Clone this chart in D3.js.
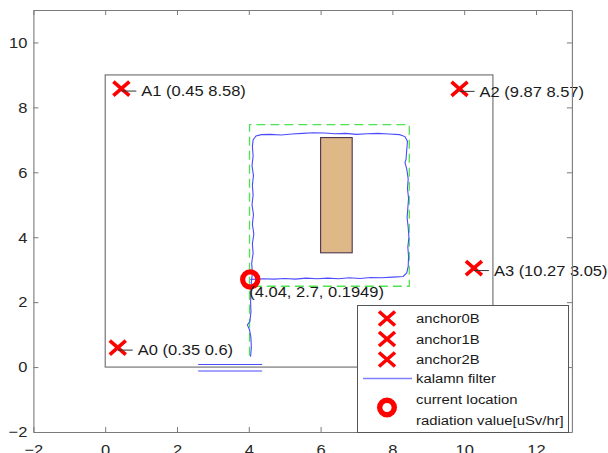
<!DOCTYPE html>
<html><head><meta charset="utf-8">
<script src="https://cdn.jsdelivr.net/npm/d3@7"></script>
<style>html,body{margin:0;padding:0;background:#fff;}svg{display:block;}</style>
</head><body>
<script>
// ---- data ----
const xTicks = [-2, 0, 2, 4, 6, 8, 10, 12];
const yTicks = [-2, 0, 2, 4, 6, 8, 10];
const anchorNames = ["A0", "A1", "A2", "A3"];
const anchorX = [0.35, 0.45, 9.87, 10.27];
const anchorY = [0.6, 8.58, 8.57, 3.05];
const roomX = [0, 10.8];
const roomY = [0, 9];
const obstacleX = [6.0, 6.88];
const obstacleY = [3.52, 7.07];
const plannedX = [4.02, 4.02, 8.47, 8.47, 4.02];
const plannedY = [0.35, 7.47, 7.47, 2.49, 2.49];
const kalmanX = [4.05, 4.07, 4.06, 4.02, 3.96, 4.03, 4.06, 4.05, 4.06, 4.07, 4.10, 4.08, 4.12, 4.10, 4.14, 4.10, 4.13, 4.09, 4.12, 4.10, 4.13, 4.09, 4.12, 4.10, 4.12, 4.20, 4.35,
  4.6, 4.9, 5.2, 5.5, 5.8, 6.1, 6.4, 6.7, 7.0, 7.3, 7.6, 7.9, 8.2, 8.35, 8.42,
  8.40, 8.38, 8.35, 8.40, 8.44, 8.42, 8.45, 8.43, 8.41, 8.44, 8.46, 8.43, 8.45, 8.44, 8.40, 8.30,
  8.0, 7.7, 7.4, 7.1, 6.8, 6.5, 6.2, 5.9, 5.6, 5.3, 5.0, 4.7, 4.4, 4.04];
const kalmanY = [0.32, 0.6, 0.9, 1.15, 1.3, 1.4, 1.7, 2.0, 2.3, 2.6, 2.9, 3.2, 3.5, 3.8, 4.1, 4.4, 4.7, 5.0, 5.3, 5.6, 5.9, 6.2, 6.5, 6.8, 7.0, 7.12, 7.16,
  7.17, 7.15, 7.18, 7.20, 7.22, 7.21, 7.19, 7.20, 7.17, 7.19, 7.20, 7.18, 7.16, 7.10, 6.95,
  6.7, 6.4, 6.3, 6.1, 5.8, 5.5, 5.2, 4.9, 4.6, 4.3, 4.0, 3.7, 3.4, 3.1, 2.9, 2.79,
  2.77, 2.75, 2.76, 2.73, 2.75, 2.72, 2.74, 2.72, 2.74, 2.71, 2.73, 2.71, 2.72, 2.70];
const kalmanTailX = [2.59, 4.37, NaN, 2.59, 4.37];
const kalmanTailY = [0.08, 0.08, NaN, -0.12, -0.12];
const currentX = 4.04, currentY = 2.7, radiationValue = 0.1949;
const legendLabels = ["anchor0B", "anchor1B", "anchor2B", "kalamn filter", "current location", "radiation value[uSv/hr]"];

// ---- chart ----
const W = 608, H = 453;
const SX = 1.1;
const FONT = "'Liberation Sans', Arial, sans-serif";
const svg = d3.select("body").append("svg").attr("width", W).attr("height", H)
  .style("font-family", FONT);
svg.append("rect").attr("width", W).attr("height", H).attr("fill", "#fff");

const x = d3.scaleLinear().domain([-2, 13]).range([33.4, 571.9]);
const y = d3.scaleLinear().domain([-2, 11]).range([432, 10]);

function stext(g, px, py, str, size, anchor) {
  return g.append("text")
    .attr("transform", `translate(${px},${py}) scale(${SX},1)`)
    .attr("dy", "0.35em")
    .attr("text-anchor", anchor || "start")
    .attr("font-size", size)
    .attr("fill", "#1a1a1a")
    .text(str);
}
function xMark(g, px, py) {
  g.append("path")
    .attr("d", `M${px - 8},${py - 7}L${px + 8},${py + 7}M${px - 8},${py + 7}L${px + 8},${py - 7}`)
    .attr("stroke", "#ff0000").attr("stroke-width", 3.6).attr("fill", "none");
}

const plot = svg.append("g");

// room
plot.append("rect")
  .attr("x", x(roomX[0])).attr("y", y(roomY[1]))
  .attr("width", x(roomX[1]) - x(roomX[0])).attr("height", y(roomY[0]) - y(roomY[1]))
  .attr("fill", "none").attr("stroke", "#6a6a6a").attr("stroke-width", 1.1);

// planned path
const line = d3.line().defined((d) => !isNaN(d[0])).x((d) => x(d[0])).y((d) => y(d[1]));
plot.append("path")
  .attr("d", line(plannedX.map((v, i) => [v, plannedY[i]])))
  .attr("fill", "none").attr("stroke", "#4fe34f").attr("stroke-width", 1.3)
  .attr("stroke-dasharray", "9,5");

// obstacle
plot.append("rect")
  .attr("x", x(obstacleX[0])).attr("y", y(obstacleY[1]))
  .attr("width", x(obstacleX[1]) - x(obstacleX[0])).attr("height", y(obstacleY[0]) - y(obstacleY[1]))
  .attr("fill", "#deb887").attr("stroke", "#4f3350").attr("stroke-width", 1.1);

// kalman filter
plot.append("path")
  .attr("d", line(kalmanX.map((v, i) => [v, kalmanY[i]])))
  .attr("fill", "none").attr("stroke", "#4a4aff").attr("stroke-width", 1.1);
plot.append("path")
  .attr("d", line(kalmanTailX.map((v, i) => [v, kalmanTailY[i]])))
  .attr("fill", "none").attr("stroke", "#4a4aff").attr("stroke-width", 1.1);

// anchors
anchorNames.forEach((n, i) => {
  const px = x(anchorX[i]), py = y(anchorY[i]);
  xMark(plot, px, py);
  plot.append("line").attr("x1", px).attr("x2", px + 15).attr("y1", py + 2.5).attr("y2", py + 2.5)
    .attr("stroke", "#333").attr("stroke-width", 1);
  stext(plot, px + 20, py + 2.5, `${n} (${anchorX[i]} ${anchorY[i]})`, 15);
});

// current location
const cx = x(currentX), cy = y(currentY);
plot.append("circle").attr("cx", cx).attr("cy", cy).attr("r", 7.6)
  .attr("fill", "none").attr("stroke", "#ff0000").attr("stroke-width", 5.2);
stext(plot, cx - 1, cy + 12.5, `(${currentX}, ${currentY}, ${radiationValue})`, 15);

// axes
const axColor = "#7a7a7a";
function styleAxis(g) {
  g.select(".domain").attr("stroke", axColor).attr("stroke-width", 1.1);
  g.selectAll(".tick line").attr("stroke", axColor).attr("stroke-width", 1);
  g.selectAll(".tick text").attr("fill", "#262626").attr("font-size", 15).attr("font-family", FONT);
}
const gB = svg.append("g").attr("transform", `translate(0,${y(-2)})`)
  .call(d3.axisBottom(x).tickValues(xTicks).tickSizeInner(-5).tickSizeOuter(0).tickPadding(12).tickFormat(d3.format("d")));
styleAxis(gB);
gB.selectAll(".tick text").attr("transform", `scale(${SX},1)`);
const gL = svg.append("g").attr("transform", `translate(${x(-2)},0)`)
  .call(d3.axisLeft(y).tickValues(yTicks).tickSizeInner(-5).tickSizeOuter(0).tickPadding(5.5).tickFormat(d3.format("d")));
styleAxis(gL);
gL.selectAll(".tick text").attr("transform", `scale(${SX},1)`);
const gT = svg.append("g").attr("transform", `translate(0,${y(11)})`)
  .call(d3.axisTop(x).tickValues(xTicks).tickSizeInner(-5).tickSizeOuter(0).tickFormat(""));
styleAxis(gT);
const gR = svg.append("g").attr("transform", `translate(${x(13)},0)`)
  .call(d3.axisRight(y).tickValues(yTicks).tickSizeInner(-5).tickSizeOuter(0).tickFormat(""));
styleAxis(gR);

// legend
const lg = svg.append("g");
lg.append("rect").attr("x", 357.5).attr("y", 305.5).attr("width", 211).attr("height", 127)
  .attr("fill", "#fff").attr("stroke", "#555").attr("stroke-width", 1);
const lx = 387, ltx = 416;
const rowsY = [318.5, 339, 359.5, 378.5, 399.5, 420];
[0, 1, 2].forEach((i) => xMark(lg, lx, rowsY[i]));
lg.append("line").attr("x1", 363).attr("x2", 412).attr("y1", rowsY[3]).attr("y2", rowsY[3])
  .attr("stroke", "#7f7fff").attr("stroke-width", 1.3);
lg.append("circle").attr("cx", lx).attr("cy", 407.5).attr("r", 7.3)
  .attr("fill", "none").attr("stroke", "#ff0000").attr("stroke-width", 5.4);
legendLabels.forEach((t, i) => stext(lg, ltx, rowsY[i], t, 13.5));
</script>
</body></html>
